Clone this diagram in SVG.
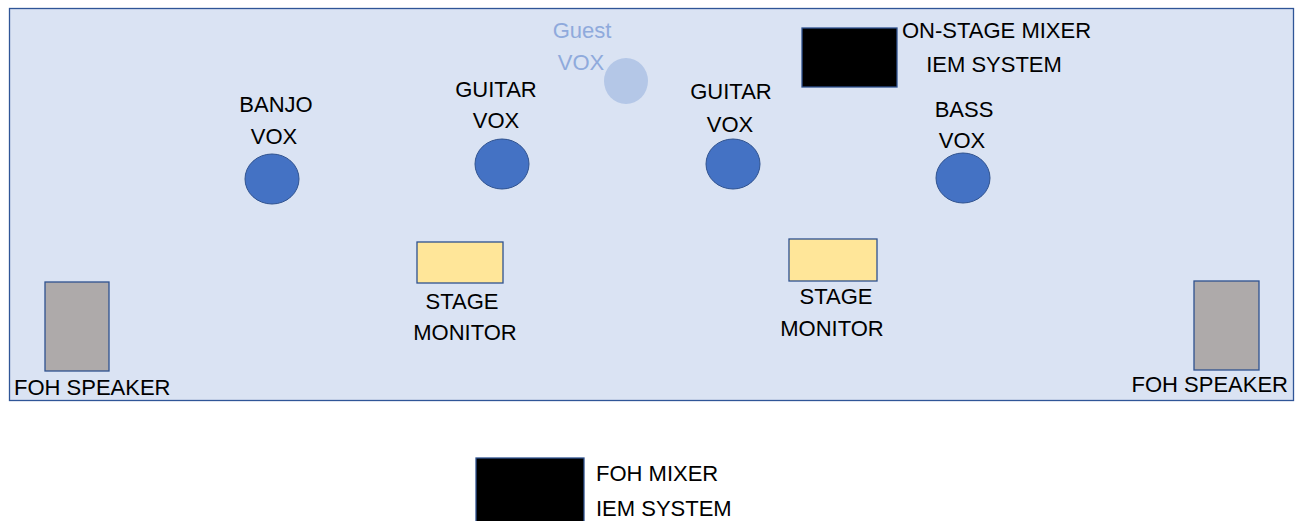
<svg xmlns="http://www.w3.org/2000/svg" width="1296" height="521" viewBox="0 0 1296 521">
<style>
text{font-family:"Liberation Sans",Arial,sans-serif;font-size:22px;fill:#000}
.c{text-anchor:middle}
.e{text-anchor:end}
.vox{fill:#4472c4;stroke:#2f528f;stroke-width:1}
.guest{fill:#b4c7e7;stroke:none}
.gtxt{fill:#8faadc}
.mon{fill:#ffe699;stroke:#2f528f;stroke-width:1.3}
.spk{fill:#aeaaaa;stroke:#2f528f;stroke-width:1.3}
.mix{fill:#000;stroke:#2f528f;stroke-width:1.3}
</style>
<rect width="1296" height="521" fill="#fff"/>
<g id="stage"><rect x="9.5" y="8.5" width="1284" height="392" fill="#dae3f3" stroke="#2f5597" stroke-width="1.3"/></g>
<g id="connectors"></g>
<g id="guest-vox">
<ellipse class="guest" cx="626" cy="81" rx="22" ry="23"/>
<text class="c gtxt" x="582" y="38">Guest</text>
<text class="c gtxt" x="581" y="70">VOX</text>
</g>
<g id="banjo-vox">
<ellipse class="vox" cx="272" cy="179" rx="27" ry="25"/>
<text class="c" x="276" y="112">BANJO</text>
<text class="c" x="274" y="144">VOX</text>
</g>
<g id="guitar-vox-1">
<ellipse class="vox" cx="502" cy="164" rx="27" ry="25"/>
<text class="c" x="496" y="97">GUITAR</text>
<text class="c" x="496" y="128">VOX</text>
</g>
<g id="guitar-vox-2">
<ellipse class="vox" cx="733" cy="164" rx="27" ry="25"/>
<text class="c" x="731" y="99">GUITAR</text>
<text class="c" x="730" y="132">VOX</text>
</g>
<g id="bass-vox">
<ellipse class="vox" cx="963" cy="178" rx="27" ry="25"/>
<text class="c" x="964" y="117">BASS</text>
<text class="c" x="962" y="148">VOX</text>
</g>
<g id="onstage-mixer">
<rect class="mix" x="802" y="28" width="95" height="59"/>
<text x="902" y="38">ON-STAGE MIXER</text>
<text class="c" x="994" y="72">IEM SYSTEM</text>
</g>
<g id="stage-monitor-1">
<rect class="mon" x="417" y="242" width="86" height="41"/>
<text class="c" x="462" y="309">STAGE</text>
<text class="c" x="465" y="340">MONITOR</text>
</g>
<g id="stage-monitor-2">
<rect class="mon" x="789" y="239" width="88" height="42"/>
<text class="c" x="836" y="304">STAGE</text>
<text class="c" x="832" y="336">MONITOR</text>
</g>
<g id="foh-speaker-left">
<rect class="spk" x="45" y="282" width="64" height="89"/>
<text x="14" y="395">FOH SPEAKER</text>
</g>
<g id="foh-speaker-right">
<rect class="spk" x="1194" y="281" width="65" height="89"/>
<text class="e" x="1288" y="392">FOH SPEAKER</text>
</g>
<g id="foh-mixer">
<rect class="mix" x="476" y="458" width="108" height="70"/>
<text x="596" y="481">FOH MIXER</text>
<text x="596" y="516">IEM SYSTEM</text>
</g>
</svg>
